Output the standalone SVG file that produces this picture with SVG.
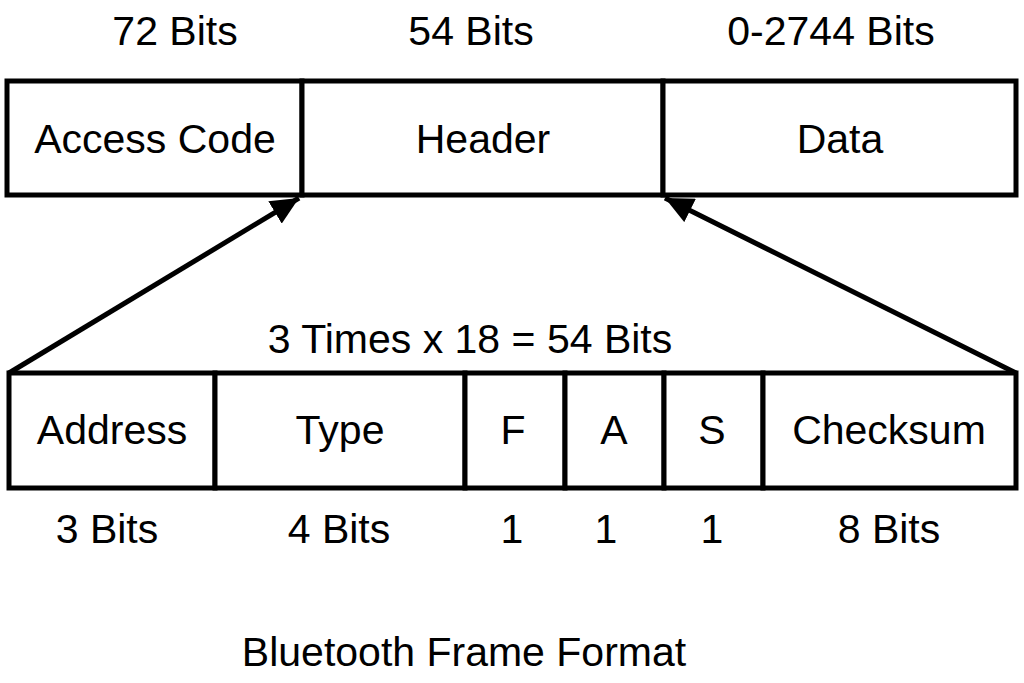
<svg xmlns="http://www.w3.org/2000/svg" width="1024" height="683" viewBox="0 0 1024 683">
<style>
.box{fill:#fff;stroke:#000;stroke-width:5}
.t{font-family:"Liberation Sans",Arial,sans-serif;font-size:41px;fill:#000;text-anchor:middle}
.c{stroke:#000;stroke-width:5;fill:none}
</style>
<defs>
<marker id="ah" markerUnits="userSpaceOnUse" markerWidth="30" markerHeight="26" refX="28" refY="13" orient="auto">
<polygon points="0,0 28,13 0,26" fill="#000"/>
</marker>
</defs>
<rect width="1024" height="683" fill="#fff"/>
<g id="labels-top">
<text class="t" x="175" y="45">72 Bits</text>
<text class="t" x="471" y="45">54 Bits</text>
<text class="t" x="831" y="45">0-2744 Bits</text>
</g>
<g id="access-code"><rect class="box" x="7" y="81" width="295" height="114"/><text class="t" x="155" y="153">Access Code</text></g>
<g id="header"><rect class="box" x="302" y="81" width="361" height="114"/><text class="t" x="483" y="153">Header</text></g>
<g id="data"><rect class="box" x="663" y="81" width="353" height="114"/><text class="t" x="840" y="153">Data</text></g>
<g id="connectors">
<line class="c" x1="9" y1="373" x2="299" y2="198" marker-end="url(#ah)"/>
<line class="c" x1="1016" y1="373" x2="665" y2="198" marker-end="url(#ah)"/>
</g>
<text class="t" x="470" y="353">3 Times x 18 = 54 Bits</text>
<g id="address"><rect class="box" x="9" y="373" width="206" height="115"/><text class="t" x="112" y="444">Address</text></g>
<g id="type"><rect class="box" x="215" y="373" width="250" height="115"/><text class="t" x="340" y="444">Type</text></g>
<g id="f"><rect class="box" x="465" y="373" width="100" height="115"/><text class="t" x="513" y="444">F</text></g>
<g id="a"><rect class="box" x="565" y="373" width="99" height="115"/><text class="t" x="614" y="444">A</text></g>
<g id="s"><rect class="box" x="664" y="373" width="99" height="115"/><text class="t" x="712" y="444">S</text></g>
<g id="checksum"><rect class="box" x="763" y="373" width="253" height="115"/><text class="t" x="889" y="444">Checksum</text></g>
<g id="labels-bottom">
<text class="t" x="107" y="543">3 Bits</text>
<text class="t" x="339" y="543">4 Bits</text>
<text class="t" x="512" y="543">1</text>
<text class="t" x="606" y="543">1</text>
<text class="t" x="712" y="543">1</text>
<text class="t" x="889" y="543">8 Bits</text>
</g>
<text class="t" x="464" y="666">Bluetooth Frame Format</text>
</svg>
